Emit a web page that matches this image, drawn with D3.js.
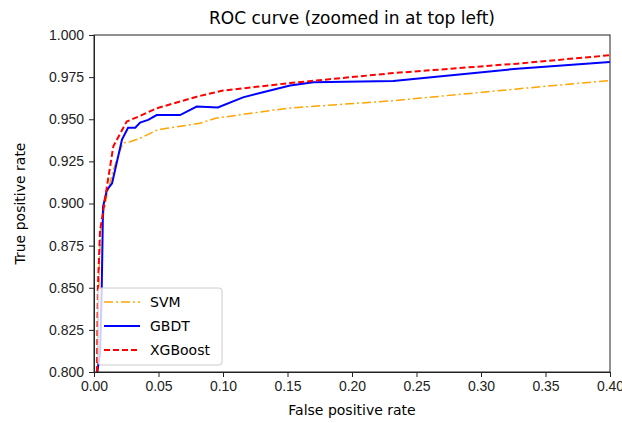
<!DOCTYPE html>
<html>
<head>
<meta charset="utf-8">
<script src="https://cdn.jsdelivr.net/npm/d3@7"></script>
<style>
  body { margin: 0; background: #fff; }
  svg { font-family: "DejaVu Sans", sans-serif; }
  .tick text { font-size: 14px; fill: #222; }
  .domain, .tick line { stroke: #222; }
</style>
</head>
<body>
<svg width="622" height="423"></svg>
<script>
// ROC points: false positive rate / true positive rate
const svmFpr  = [0.003, 0.004, 0.005, 0.010, 0.015, 0.020, 0.0225, 0.028, 0.0357, 0.049, 0.0564, 0.082, 0.095, 0.126, 0.152, 0.232, 0.328, 0.400];
const svmTpr  = [0.800, 0.860, 0.884, 0.905, 0.920, 0.931, 0.936, 0.9367, 0.9387, 0.9436, 0.9446, 0.9476, 0.9507, 0.954, 0.9567, 0.961, 0.968, 0.973];

const gbdtFpr = [0.0025, 0.0047, 0.006, 0.007, 0.010, 0.014, 0.0217, 0.0264, 0.032, 0.0357, 0.042, 0.0486, 0.0667, 0.0796, 0.096, 0.1155, 0.131, 0.152, 0.170, 0.232, 0.328, 0.400];
const gbdtTpr = [0.800, 0.811, 0.850, 0.898, 0.908, 0.912, 0.938, 0.945, 0.945, 0.948, 0.9496, 0.9525, 0.9525, 0.9575, 0.957, 0.963, 0.966, 0.970, 0.972, 0.9727, 0.980, 0.984];

const xgbFpr  = [0.0023, 0.003, 0.0047, 0.006, 0.0085, 0.010, 0.015, 0.0253, 0.0357, 0.0486, 0.0796, 0.100, 0.152, 0.232, 0.328, 0.400];
const xgbTpr  = [0.800, 0.850, 0.884, 0.890, 0.902, 0.910, 0.934, 0.9486, 0.952, 0.9565, 0.9634, 0.967, 0.9715, 0.9774, 0.983, 0.988];

const xTicks = [0, 0.05, 0.10, 0.15, 0.20, 0.25, 0.30, 0.35, 0.40];
const yTicks = [0.800, 0.825, 0.850, 0.875, 0.900, 0.925, 0.950, 0.975, 1.000];

const series = [
  { name: "SVM", x: svmFpr, y: svmTpr, color: "#ffa500", dash: "9,3,2,3", width: 1.5 },
  { name: "GBDT", x: gbdtFpr, y: gbdtTpr, color: "#0000ff", dash: null, width: 2 },
  { name: "XGBoost", x: xgbFpr, y: xgbTpr, color: "#ff0000", dash: "6,3", width: 2 }
];

const svg = d3.select("svg");
const mLeft = 94, mRight = 610, mTop = 35, mBottom = 372;

const x = d3.scaleLinear().domain([0, 0.4]).range([mLeft, mRight]);
const y = d3.scaleLinear().domain([0.8, 1.0]).range([mBottom, mTop]);

svg.append("defs").append("clipPath").attr("id", "clip")
  .append("rect")
  .attr("x", mLeft).attr("y", mTop)
  .attr("width", mRight - mLeft).attr("height", mBottom - mTop);

svg.append("g")
  .attr("transform", `translate(0,${mBottom})`)
  .call(d3.axisBottom(x).tickValues(xTicks).tickFormat(d3.format(".2f")).tickSize(5).tickPadding(4));

svg.append("g")
  .attr("transform", `translate(${mLeft},0)`)
  .call(d3.axisLeft(y).tickValues(yTicks).tickFormat(d3.format(".3f")).tickSize(5).tickPadding(5));

// lines
const line = d3.line().x(d => x(d[0])).y(d => y(d[1]));
const plot = svg.append("g").attr("clip-path", "url(#clip)");
series.forEach(s => {
  plot.append("path")
    .datum(s.x.map((v, i) => [v, s.y[i]]))
    .attr("d", line)
    .attr("fill", "none")
    .attr("stroke", s.color)
    .attr("stroke-width", s.width)
    .attr("stroke-dasharray", s.dash);
});

// frame
svg.append("rect")
  .attr("x", mLeft).attr("y", mTop)
  .attr("width", mRight - mLeft).attr("height", mBottom - mTop)
  .attr("fill", "none").attr("stroke", "#222");

// title and labels
svg.append("text")
  .attr("x", (mLeft + mRight) / 2).attr("y", 24)
  .attr("text-anchor", "middle")
  .style("font-size", "17px")
  .text("ROC curve (zoomed in at top left)");

svg.append("text")
  .attr("x", (mLeft + mRight) / 2).attr("y", 415)
  .attr("text-anchor", "middle")
  .style("font-size", "14px")
  .text("False positive rate");

svg.append("text")
  .attr("transform", `translate(25,${(mTop + mBottom) / 2}) rotate(-90)`)
  .attr("text-anchor", "middle")
  .style("font-size", "14px")
  .text("True positive rate");

// legend
const lg = svg.append("g").attr("transform", "translate(98,288)");
lg.append("rect")
  .attr("width", 124).attr("height", 77).attr("rx", 3)
  .attr("fill", "#fff").attr("fill-opacity", 0.8)
  .attr("stroke", "#ccc");
series.forEach((s, i) => {
  const yy = 14 + i * 24;
  lg.append("line")
    .attr("x1", 6).attr("x2", 42).attr("y1", yy).attr("y2", yy)
    .attr("stroke", s.color).attr("stroke-width", s.width)
    .attr("stroke-dasharray", s.dash);
  lg.append("text")
    .attr("x", 52).attr("y", yy + 5)
    .style("font-size", "14px")
    .text(s.name);
});
</script>
</body>
</html>
